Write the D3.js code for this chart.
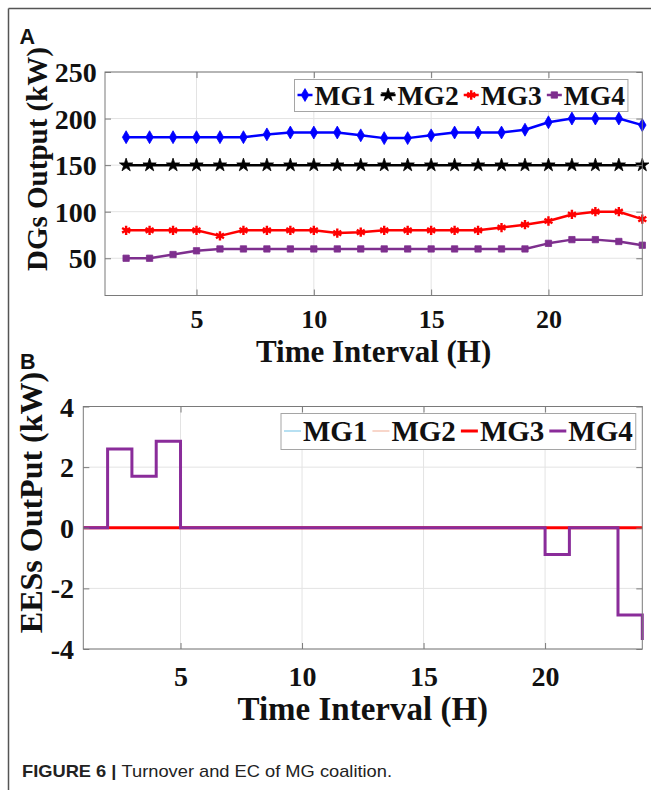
<!DOCTYPE html>
<html>
<head>
<meta charset="utf-8">
<script src="https://cdn.jsdelivr.net/npm/d3@7"></script>
<style>
  body { margin: 0; background: #fff; }
  svg { display: block; }
</style>
</head>
<body>
<svg id="fig" width="651" height="790"></svg>
<script>
// ---- Panel A: DG outputs (kW) per hour ----
const dgHours = [2, 3, 4, 5, 6, 7, 8, 9, 10, 11, 12, 13, 14, 15, 16, 17, 18, 19, 20, 21, 22, 23, 24];
const dgMG1 = [180, 180, 180, 180, 180, 180, 183, 185, 185, 185, 182, 179, 179, 182, 185, 185, 185, 188, 196, 200, 200, 200, 193];
const dgMG2 = [150, 150, 150, 150, 150, 150, 150, 150, 150, 150, 150, 150, 150, 150, 150, 150, 150, 150, 150, 150, 150, 150, 150];
const dgMG3 = [80, 80, 80, 80, 74, 80, 80, 80, 80, 77, 78, 80, 80, 80, 80, 80, 83, 86, 90, 97, 100, 100, 92];
const dgMG4 = [50, 50, 54, 58, 60, 60, 60, 60, 60, 60, 60, 60, 60, 60, 60, 60, 60, 60, 66, 70, 70, 68, 64];

// ---- Panel B: EES outputs (kW) per hour, drawn as stairs ----
const eesHours = [1, 2, 3, 4, 5, 6, 7, 8, 9, 10, 11, 12, 13, 14, 15, 16, 17, 18, 19, 20, 21, 22, 23, 24];
const eesMG1 = [0, 0, 0, 0, 0, 0, 0, 0, 0, 0, 0, 0, 0, 0, 0, 0, 0, 0, 0, 0, 0, 0, 0, 0];
const eesMG2 = [0, 0, 0, 0, 0, 0, 0, 0, 0, 0, 0, 0, 0, 0, 0, 0, 0, 0, 0, 0, 0, 0, 0, 0];
const eesMG3 = [0, 0, 0, 0, 0, 0, 0, 0, 0, 0, 0, 0, 0, 0, 0, 0, 0, 0, 0, 0, 0, 0, 0, 0];
const eesMG4 = [0, 2.6, 1.7, 2.85, 0, 0, 0, 0, 0, 0, 0, 0, 0, 0, 0, 0, 0, 0, 0, -0.88, 0, 0, -2.88, -3.7];

const seriesNames = ["MG1", "MG2", "MG3", "MG4"];
const hourTicks = [5, 10, 15, 20];
const dgTicks = [50, 100, 150, 200, 250];
const eesTicks = [-4, -2, 0, 2, 4];

const SERIF = "'Liberation Serif', 'Times New Roman', Times, serif";
const SANS = "'Liberation Sans', Arial, Helvetica, sans-serif";

const svg = d3.select("#fig");

// figure frame (top and left rules)
svg.append("line").attr("x1", 8.5).attr("y1", 8.5).attr("x2", 651).attr("y2", 8.5)
  .attr("stroke", "#555").attr("stroke-width", 1.5);
svg.append("line").attr("x1", 8.5).attr("y1", 8.5).attr("x2", 8.5).attr("y2", 790)
  .attr("stroke", "#555").attr("stroke-width", 1.5);

function drawFrame(g, x, y, cfg) {
  const [x0, x1] = x.range();
  const [y0, y1] = y.range(); // y0 bottom, y1 top
  // grid
  g.append("g").selectAll("line").data(cfg.xTicks).join("line")
    .attr("x1", d => x(d)).attr("x2", d => x(d)).attr("y1", y1).attr("y2", y0)
    .attr("stroke", "#e3e3e3").attr("stroke-width", 1);
  g.append("g").selectAll("line").data(cfg.yTicks).join("line")
    .attr("x1", x0).attr("x2", x1).attr("y1", d => y(d)).attr("y2", d => y(d))
    .attr("stroke", "#e3e3e3").attr("stroke-width", 1);
}

function drawAxes(g, x, y, cfg) {
  const [x0, x1] = x.range();
  const [y0, y1] = y.range();
  const axCol = "#7a7a7a";
  const plain = d => String(d); // hyphen-minus, as in the original plot
  const bottom = g.append("g").attr("transform", `translate(0,${y0})`)
    .call(d3.axisBottom(x).tickValues(cfg.xTicks).tickSize(-6).tickPadding(cfg.xPad).tickFormat(plain));
  const top = g.append("g").attr("transform", `translate(0,${y1})`)
    .call(d3.axisTop(x).tickValues(cfg.xTicks).tickSize(-6).tickFormat(""));
  const left = g.append("g").attr("transform", `translate(${x0},0)`)
    .call(d3.axisLeft(y).tickValues(cfg.yTicks).tickSize(-6).tickPadding(cfg.yPad).tickFormat(plain));
  const right = g.append("g").attr("transform", `translate(${x1},0)`)
    .call(d3.axisRight(y).tickValues(cfg.yTicks).tickSize(-6).tickFormat(""));
  [bottom, top, left, right].forEach(a => {
    a.select(".domain").remove();
    a.selectAll(".tick line").attr("stroke", axCol);
  });
  bottom.selectAll("text").attr("font-family", SERIF).attr("font-weight", "bold")
    .attr("font-size", cfg.xTickSize).attr("fill", "#111");
  left.selectAll("text").attr("font-family", SERIF).attr("font-weight", "bold")
    .attr("font-size", cfg.yTickSize).attr("fill", "#111").attr("dy", "0.34em");
  g.append("rect").attr("x", x0).attr("y", y1).attr("width", x1 - x0).attr("height", y0 - y1)
    .attr("fill", "none").attr("stroke", axCol).attr("stroke-width", 1);
  // axis titles
  g.append("text").attr("x", (x0 + x1) / 2).attr("y", cfg.xLabelY)
    .attr("text-anchor", "middle").attr("font-family", SERIF).attr("font-weight", "bold")
    .attr("font-size", cfg.xLabelSize).attr("fill", "#111").text("Time Interval (H)");
  g.append("text").attr("transform", `translate(${cfg.yLabelX},${cfg.yLabelY}) rotate(-90)`)
    .attr("text-anchor", "middle").attr("font-family", SERIF).attr("font-weight", "bold")
    .attr("font-size", cfg.yLabelSize).attr("fill", "#111").text(cfg.yLabel);
}

function drawLegend(g, entries, cfg) {
  const lg = g.append("g");
  const box = lg.append("rect").attr("fill", "#fff").attr("stroke", "#a5a5a5").attr("stroke-width", 1);
  let cx = cfg.x + 3;
  entries.forEach(e => {
    const segMid = cx + cfg.seg / 2;
    lg.append("line").attr("x1", cx).attr("x2", cx + cfg.seg)
      .attr("y1", cfg.midY).attr("y2", cfg.midY)
      .attr("stroke", e.color).attr("stroke-width", e.width);
    if (e.symbol) drawMarker(lg, e, segMid, cfg.midY);
    const t = lg.append("text").attr("x", cx + cfg.seg + 2).attr("y", cfg.baseY)
      .attr("font-family", SERIF).attr("font-weight", "bold").attr("font-size", cfg.size)
      .attr("fill", "#111").text(e.name);
    cx += cfg.seg + 2 + t.node().getComputedTextLength() + 5;
  });
  box.attr("x", cfg.x).attr("y", cfg.y).attr("width", cx - cfg.x - 2).attr("height", cfg.h);
}

function drawMarker(g, s, px, py) {
  const path = d3.symbol().type(s.symbol).size(s.size)();
  const m = g.append("path").attr("d", path).attr("transform", `translate(${px},${py})`);
  if (s.stroked) {
    m.attr("fill", "none").attr("stroke", s.color).attr("stroke-width", 2.4);
  } else {
    m.attr("fill", s.color).attr("stroke", s.color).attr("stroke-width", 0.8);
  }
}

// ================= Panel A =================
{
  const g = svg.append("g");
  const x = d3.scaleLinear().domain([1.1, 24]).range([105, 642.3]);
  const y = d3.scaleLinear().domain([10, 250]).range([295.5, 72]);
  const cfg = {
    xTicks: hourTicks, yTicks: dgTicks, xPad: 14, yPad: 8.3,
    xTickSize: 26, yTickSize: 28, xLabelY: 362, xLabelSize: 31,
    yLabelX: 46.5, yLabelY: 159, yLabelSize: 29, yLabel: "DGs Output (kW)"
  };
  drawFrame(g, x, y, cfg);

  const series = [
    { name: "MG1", values: dgMG1, color: "#0000ff", symbol: d3.symbolDiamond, size: 48, width: 2.5 },
    { name: "MG2", values: dgMG2, color: "#000000", symbol: d3.symbolStar, size: 55, width: 2.5 },
    { name: "MG3", values: dgMG3, color: "#ff0000", symbol: d3.symbolAsterisk, size: 60, width: 2.5, stroked: true },
    { name: "MG4", values: dgMG4, color: "#7e2f8e", symbol: d3.symbolSquare, size: 40, width: 2.5 }
  ];
  const line = d3.line().x((d, i) => x(dgHours[i])).y(d => y(d));
  series.forEach(s => {
    g.append("path").datum(s.values).attr("d", line)
      .attr("fill", "none").attr("stroke", s.color).attr("stroke-width", s.width)
      .attr("stroke-linejoin", "round");
    s.values.forEach((v, i) => drawMarker(g, s, x(dgHours[i]), y(v)));
  });

  drawAxes(g, x, y, cfg);
  drawLegend(g, series, { x: 294.5, y: 79.5, h: 32, seg: 15, midY: 95, baseY: 105, size: 27.5 });

  svg.append("text").attr("x", 19.5).attr("y", 43.5).attr("font-family", SANS)
    .attr("font-weight", "bold").attr("font-size", 21.5).attr("fill", "#111").text("A");
}

// ================= Panel B =================
{
  const g = svg.append("g");
  const x = d3.scaleLinear().domain([1, 24]).range([83.3, 642.3]);
  const y = d3.scaleLinear().domain([-4, 4]).range([649, 406.5]);
  const cfg = {
    xTicks: hourTicks, yTicks: eesTicks, xPad: 17, yPad: 9.3,
    xTickSize: 28, yTickSize: 28, xLabelY: 720, xLabelSize: 33,
    yLabelX: 42, yLabelY: 502.5, yLabelSize: 32, yLabel: "EESs OutPut (kW)"
  };
  drawFrame(g, x, y, cfg);

  const series = [
    { name: "MG1", values: eesMG1, color: "#9fd6ee", width: 1.5 },
    { name: "MG2", values: eesMG2, color: "#f6c9b8", width: 1.5 },
    { name: "MG3", values: eesMG3, color: "#ff0000", width: 3 },
    { name: "MG4", values: eesMG4, color: "#8a2c9a", width: 3 }
  ];
  const stairs = d3.line().curve(d3.curveStepAfter).x((d, i) => x(eesHours[i])).y(d => y(d));
  series.forEach(s => {
    g.append("path").datum(s.values).attr("d", stairs)
      .attr("fill", "none").attr("stroke", s.color).attr("stroke-width", s.width);
  });

  drawAxes(g, x, y, cfg);
  drawLegend(g, series, { x: 281, y: 413.5, h: 36, seg: 17, midY: 431, baseY: 441, size: 29 });

  svg.append("text").attr("x", 20).attr("y", 368.5).attr("font-family", SANS)
    .attr("font-weight", "bold").attr("font-size", 21.5).attr("fill", "#111").text("B");
}

// ---- caption ----
{
  const cap = svg.append("text").attr("x", 22).attr("y", 777)
    .attr("font-family", "'Liberation Sans Narrow', 'Liberation Sans', Arial, sans-serif")
    .attr("font-size", 17).attr("fill", "#222");
  cap.append("tspan").attr("font-weight", "bold").text("FIGURE 6 | ");
  cap.append("tspan").text("Turnover and EC of MG coalition.");
  cap.attr("textLength", 370).attr("lengthAdjust", "spacingAndGlyphs");
}
</script>
</body>
</html>
